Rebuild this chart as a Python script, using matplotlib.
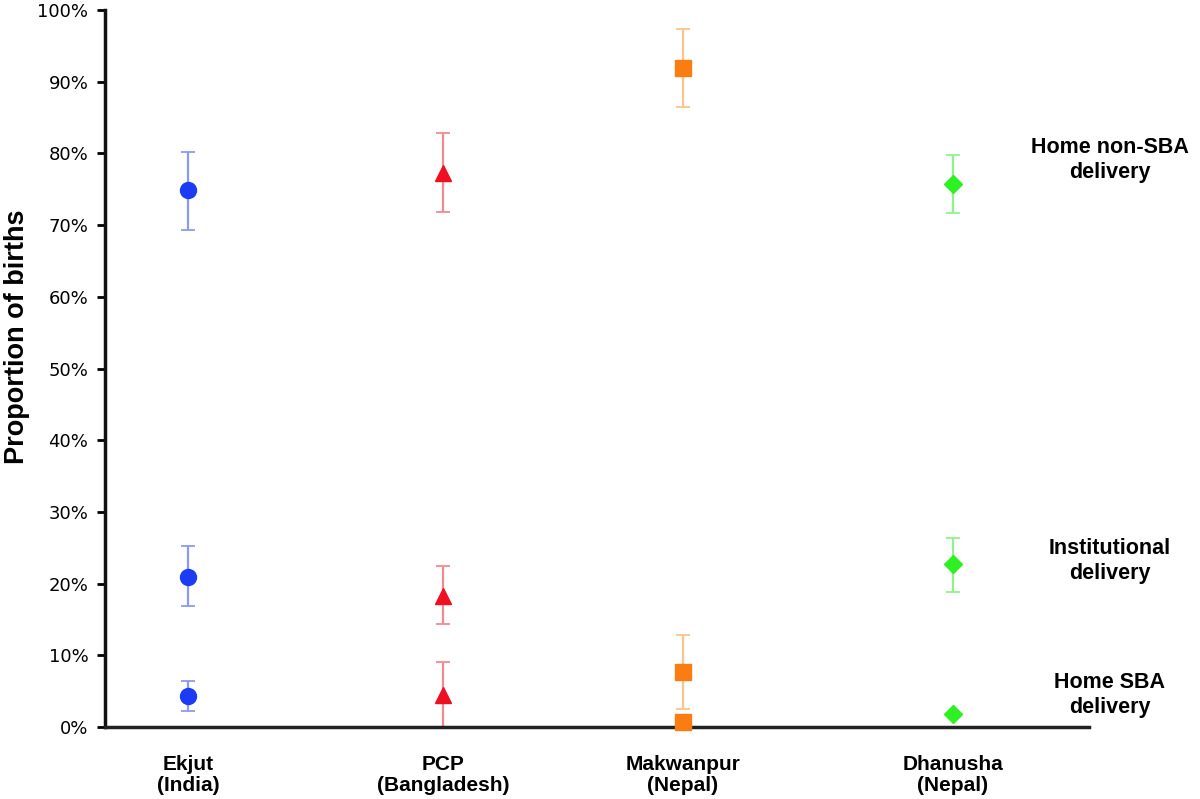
import matplotlib
matplotlib.use("Agg")
import matplotlib.pyplot as plt
from matplotlib.ticker import FuncFormatter

# ---- data ----
sites = ["Ekjut\n(India)", "PCP\n(Bangladesh)", "Makwanpur\n(Nepal)", "Dhanusha\n(Nepal)"]
outcomes = ["Home non-SBA\ndelivery", "Institutional\ndelivery", "Home SBA\ndelivery"]

# values in % : [home non-SBA, institutional, home SBA]
ekjut_val = [74.9, 20.9, 4.3]
ekjut_lo = [69.3, 16.9, 2.2]
ekjut_hi = [80.2, 25.2, 6.4]

pcp_val = [77.3, 18.3, 4.5]
pcp_lo = [71.8, 14.4, 0.0]
pcp_hi = [82.8, 22.5, 9.1]

makwanpur_val = [91.9, 7.7, 0.7]
makwanpur_lo = [86.5, 2.5, None]
makwanpur_hi = [97.3, 12.8, None]

dhanusha_val = [75.7, 22.7, 1.8]
dhanusha_lo = [71.7, 18.8, None]
dhanusha_hi = [79.8, 26.4, None]

label_y = [79.1, 23.2, 4.5]
yticks = list(range(0, 101, 10))

# ---- style ----
site_x = [1.0, 2.0, 2.94, 4.0]
markers = ["o", "^", "s", "D"]
msizes = [11.5, 12, 11.5, 9.5]
colors = ["#1b3cf2", "#ee1020", "#fa7d12", "#2ef022"]
ecolors = ["#8c9aee", "#f08a94", "#f8c590", "#8ef48a"]

fig = plt.figure(figsize=(12, 7.99), dpi=100)
ax = fig.add_axes([0.0875, 0.09, 0.82, 0.8975])

series = [
    (ekjut_val, ekjut_lo, ekjut_hi),
    (pcp_val, pcp_lo, pcp_hi),
    (makwanpur_val, makwanpur_lo, makwanpur_hi),
    (dhanusha_val, dhanusha_lo, dhanusha_hi),
]

for i, (vals, los, his) in enumerate(series):
    for v, lo, hi in zip(vals, los, his):
        if lo is not None:
            ax.errorbar([site_x[i]], [v], yerr=[[v - lo], [hi - v]], fmt="none",
                        ecolor=ecolors[i], elinewidth=1.6, capsize=5, capthick=1.3,
                        zorder=2, clip_on=False)
        ax.plot([site_x[i]], [v], marker=markers[i], markersize=msizes[i],
                color=colors[i], linestyle="none", zorder=3, clip_on=False)

ax.set_xlim(0.674, 4.534)
ax.set_ylim(0, 100)
ax.set_yticks(yticks)
ax.yaxis.set_major_formatter(FuncFormatter(lambda v, p: f"{int(v)}%"))
ax.set_xticks(site_x)
ax.set_xticklabels(sites, fontsize=15, fontweight="bold", family="Liberation Sans",
                   linespacing=1.12)
ax.tick_params(axis="x", length=0, pad=20)
ax.tick_params(axis="y", length=6, width=2, labelsize=13, pad=6, direction="out")
for lbl in ax.get_yticklabels():
    lbl.set_family("DejaVu Sans")
for lbl in ax.get_xticklabels():
    lbl.set_verticalalignment("top")

for s in ["top", "right"]:
    ax.spines[s].set_visible(False)
ax.spines["left"].set_linewidth(2.5)
ax.spines["bottom"].set_linewidth(2.5)
ax.spines["left"].set_color("#111111")
ax.spines["bottom"].set_color("#222222")

ax.set_ylabel("Proportion of births", fontsize=19.5, fontweight="bold",
              family="Liberation Sans")
ax.yaxis.set_label_coords(-0.076, 0.544)

for txt, yv in zip(outcomes, label_y):
    ax.text(1.021, yv, txt, transform=ax.get_yaxis_transform(),
            ha="center", va="center", fontsize=15.5, fontweight="bold",
            family="Liberation Sans", clip_on=False, linespacing=1.25)

fig.savefig("out.png", dpi=100)
